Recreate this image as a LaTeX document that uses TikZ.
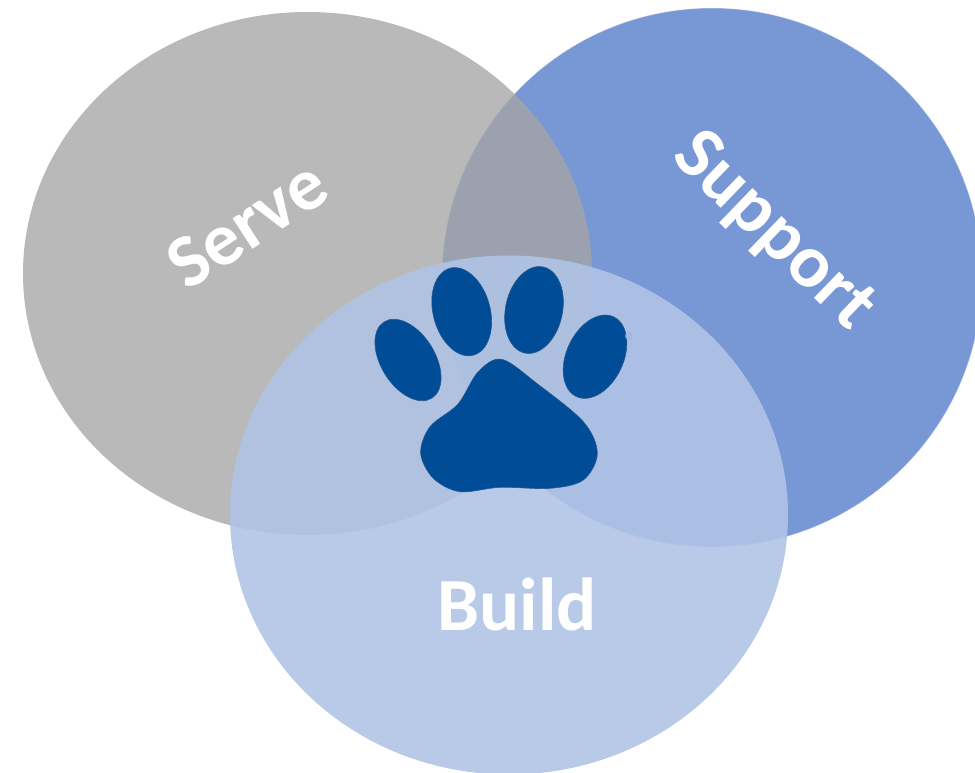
\documentclass[tikz,border=0pt]{standalone}
\usepackage{fontspec}
\setmainfont{Carlito}
\definecolor{greyc}{RGB}{165,165,165}
\definecolor{bluec}{RGB}{120,151,213}
\definecolor{buildc}{RGB}{176,196,229}
\definecolor{pawc}{RGB}{0,76,151}
\tikzset{
  lab/.style={text=white,font=\bfseries\fontsize{75}{75}\selectfont,inner sep=0pt},
  pad/.style={fill=pawc,draw=pawc!70!gray,line width=0.6pt}
}
\begin{document}
\begin{tikzpicture}[x=1pt,y=-1pt]
\useasboundingbox (0,0) rectangle (975,772);
\begin{scope}
\clip (0,0) rectangle (975,772);
% circles
\fill[bluec] (712,277.5) circle[x radius=270,y radius=269.5];
\draw[white,opacity=0.35,line width=1pt] (712,277.5) circle[x radius=270,y radius=269.5];
\fill[greyc,fill opacity=0.78] (307.5,273.5) circle[x radius=284.5,y radius=261.5];
\fill[buildc,fill opacity=0.9] (509,515) circle[x radius=279,y radius=259.5];
% paw
\fill[pad] (408,360) ellipse[x radius=45,y radius=27,rotate=-58];
\fill[pad] (461.7,311.7) ellipse[x radius=45,y radius=28.5,rotate=-75];
\fill[pad] (534,310) ellipse[x radius=44,y radius=28.5,rotate=78];
\fill[pad] (595,356.7) ellipse[x radius=44,y radius=28.5,rotate=65];
\fill[bluec!70!white,opacity=0.8] (629,336) circle[radius=4];
\filldraw[pad] plot[smooth cycle,tension=0.55] coordinates {(501.7,359.3) (536.7,383.3) (583.3,421.7) (597.3,453.3) (583.3,480) (550,488.3) (500,487.3) (460,491.7) (433.3,478.3) (420.7,453.3) (430,426.7) (458,404) (478,372)};
\end{scope}
% labels
\node[lab,rotate=33] (serve) at (247,224) {Serve};
\node[lab,rotate=-44] (support) at (773,232) {Support};
\node[lab] (build) at (517,604) {Build};
\end{tikzpicture}
\end{document}
